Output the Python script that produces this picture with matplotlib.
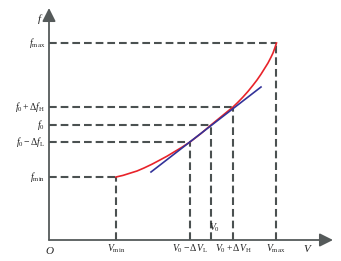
import matplotlib
matplotlib.use("Agg")
import matplotlib.pyplot as plt

matplotlib.rcParams['mathtext.fontset'] = 'custom'
matplotlib.rcParams['mathtext.rm'] = 'Liberation Serif'
matplotlib.rcParams['mathtext.it'] = 'Liberation Serif:italic'
matplotlib.rcParams['font.family'] = 'Liberation Serif'

# 曲线 f(V)
curve_v = [67, 74, 80, 88, 95, 103, 110, 118, 125, 133, 141, 152, 162, 173, 184,
           189, 194, 199, 204, 208, 212, 216, 219, 222, 224, 226, 227.5]
curve_f = [63, 64.6, 66.5, 69, 72, 75.8, 79.5, 83.8, 88, 92.8, 98, 106.5, 115, 124, 133,
           137.8, 143, 148.6, 154.8, 160, 165.8, 172.2, 177, 182.8, 187, 192.5, 197]
# 切线
tan_v = [102, 212]
tan_f = [68, 153]

# 标记点
v_ticks = [67, 141, 162, 184, 227]
f_ticks = [63, 98, 115, 133, 197]
v_labels = [r'$V_{\rm min}$', r'$V_0-\Delta V_{\rm L}$', r'$V_0$', r'$V_0+\Delta V_{\rm H}$', r'$V_{\rm max}$']
f_labels = [r'$f_{\rm min}$', r'$f_0-\Delta f_{\rm L}$', r'$f_0$', r'$f_0+\Delta f_{\rm H}$', r'$f_{\rm max}$']

gray = '#4b5151'
fs = 7

fig = plt.figure(figsize=(3.41, 2.61), dpi=100)
ax = fig.add_axes([0, 0, 1, 1])
ax.set_xlim(-49, 292)
ax.set_ylim(-21, 240)
ax.axis('off')

# 虚线
for v, f in zip(v_ticks, f_ticks):
    ax.plot([0, v], [f, f], color=gray, lw=1.5, dashes=(3.7, 1.9))
    ax.plot([v, v], [0, f], color=gray, lw=1.5, dashes=(3.7, 1.9))

ax.plot(curve_v, curve_f, color='#e8232a', lw=1.2)
ax.plot(tan_v, tan_f, color='#333399', lw=1.2)

# 坐标轴
arrow = dict(arrowstyle='-|>', lw=1.3, color='#555a5a', mutation_scale=20, shrinkA=0, shrinkB=0)
ax.annotate('', xy=(284, 0), xytext=(0, 0), arrowprops=arrow)
ax.annotate('', xy=(0, 232), xytext=(0, 0), arrowprops=arrow)

# 标签
for v, lab in zip(v_ticks, v_labels):
    if lab == r'$V_0$':
        ax.text(v + 4, 12, lab, fontsize=fs, ha='center', va='center', color='#222')
    else:
        ax.text(v, -9, lab, fontsize=fs, ha='center', va='center', color='#222')
for f, lab in zip(f_ticks, f_labels):
    ax.text(-4, f, lab, fontsize=fs, ha='right', va='center', color='#222')
ax.text(1, -11, r'$O$', fontsize=fs + 1, ha='center', va='center', color='#222')
ax.text(259, -8, r'$V$', fontsize=fs + 1, ha='center', va='center', color='#222')
ax.text(-9, 221, r'$f$', fontsize=fs + 1, ha='center', va='center', color='#222')

plt.savefig('out.png', dpi=100)
